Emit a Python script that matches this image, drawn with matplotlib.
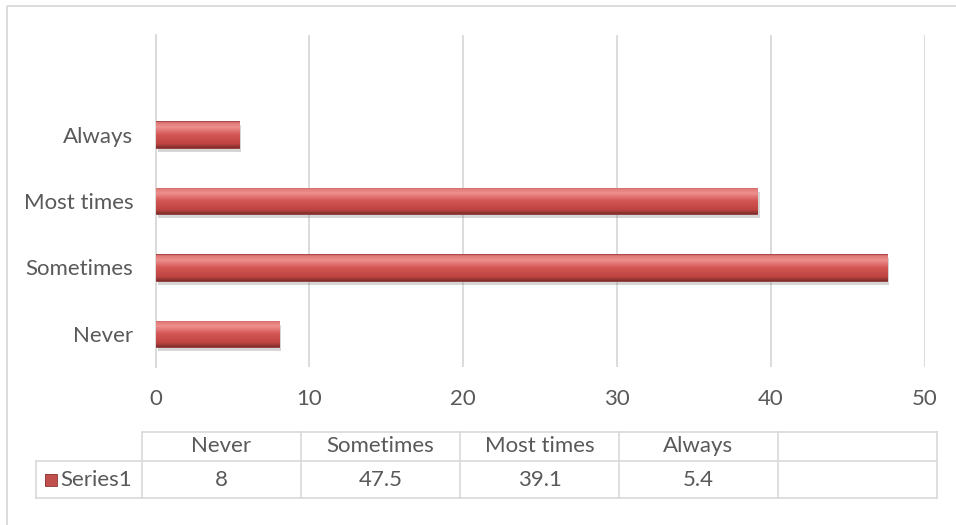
import numpy as np
import matplotlib
matplotlib.use("Agg")
import matplotlib.pyplot as plt
from matplotlib import patheffects as pe
from matplotlib.colors import LinearSegmentedColormap
from matplotlib.patches import Rectangle

# Survey responses (percent)
categories = ["Never", "Sometimes", "Most times", "Always", ""]
values = [8, 47.5, 39.1, 5.4]
value_labels = ["8", "47.5", "39.1", "5.4", ""]
series_name = "Series1"
x_ticks = [0, 10, 20, 30, 40, 50]

W, H = 956, 525
plt.rcParams["font.family"] = ["Lato", "DejaVu Sans"]
TEXT = "#595959"
GRID = "#D9D9D9"
FS = 16

fig = plt.figure(figsize=(W / 100, H / 100), dpi=100)
fig.patch.set_facecolor("white")

# pixel-space canvas for the chart frame and the data table
bg = fig.add_axes([0, 0, 1, 1])
bg.axis("off")
bg.add_patch(Rectangle((7, 6), W + 20, H + 20, fill=False, ec=GRID, lw=1.3))

ax = fig.add_axes([155.5 / W, 1 - 367 / H, (925 - 155.5) / W, (367 - 35) / H])
ax.set_facecolor("none")

bar_cmap = LinearSegmentedColormap.from_list(
    "bar", [(0.0, "#9A3B39"), (0.05, "#E07876"), (0.22, "#EE908E"),
            (0.5, "#D45755"), (0.85, "#BE4441"), (1.0, "#7E2D2B")])
grad = np.linspace(0, 1, 64).reshape(-1, 1)

ypos = np.arange(len(values))
bars = ax.barh(ypos, values, height=0.4, color="#C0504D", edgecolor="#8C3836",
               linewidth=0.6, zorder=3,
               path_effects=[pe.SimplePatchShadow(offset=(2, -3), shadow_rgbFace="#888888", alpha=0.35),
                             pe.Normal()])
for b in bars:
    x0, y0 = b.get_x(), b.get_y()
    im = ax.imshow(grad, cmap=bar_cmap, aspect="auto", origin="upper",
                   extent=(x0, x0 + b.get_width(), y0, y0 + b.get_height()),
                   zorder=4, interpolation="bilinear")
    im.set_clip_path(b)

ax.set_xlim(0, 50)
ax.set_ylim(-0.5, len(categories) - 0.5)
ax.set_xticks(x_ticks)
ax.set_xticklabels([str(t) for t in x_ticks])
ax.set_yticks(np.arange(len(categories)))
ax.set_yticklabels(categories)
ax.tick_params(axis="both", length=0, colors=TEXT, labelsize=FS)
ax.tick_params(axis="x", pad=16)
ax.tick_params(axis="y", pad=16)
ax.grid(axis="x", color=GRID, lw=1.3, zorder=0)
for s in ["top", "right", "bottom"]:
    ax.spines[s].set_visible(False)
ax.spines["left"].set_color(GRID)
ax.spines["left"].set_linewidth(1.3)

# data table under the plot
col_x = np.linspace(142, 937, len(categories) + 1)
row_top, row_mid, row_bot = 432, 461, 498
lc = dict(color=GRID, lw=1.2)
bg.plot([col_x[0], col_x[-1]], [row_top, row_top], **lc)
bg.plot([36, col_x[-1]], [row_mid, row_mid], **lc)
bg.plot([36, col_x[-1]], [row_bot, row_bot], **lc)
bg.plot([36, 36], [row_mid, row_bot], **lc)
for cx in col_x:
    bg.plot([cx, cx], [row_top, row_bot], **lc)
for i, (c, v) in enumerate(zip(categories, value_labels)):
    xc = (col_x[i] + col_x[i + 1]) / 2
    bg.text(xc, 446, c, ha="center", va="center", color=TEXT, fontsize=FS)
    bg.text(xc, 480, v, ha="center", va="center", color=TEXT, fontsize=FS)
key = Rectangle((45, 474), 12, 12, fc="#C0504D", ec="#8C3836", lw=0.6)
bg.add_patch(key)
kim = bg.imshow(grad, cmap=bar_cmap, aspect="auto", extent=(45, 57, 486, 474), interpolation="bilinear")
kim.set_clip_path(key)
bg.text(60, 480, series_name, ha="left", va="center", color=TEXT, fontsize=FS)
bg.set_xlim(0, W)
bg.set_ylim(H, 0)

fig.savefig("out.png", dpi=100)
